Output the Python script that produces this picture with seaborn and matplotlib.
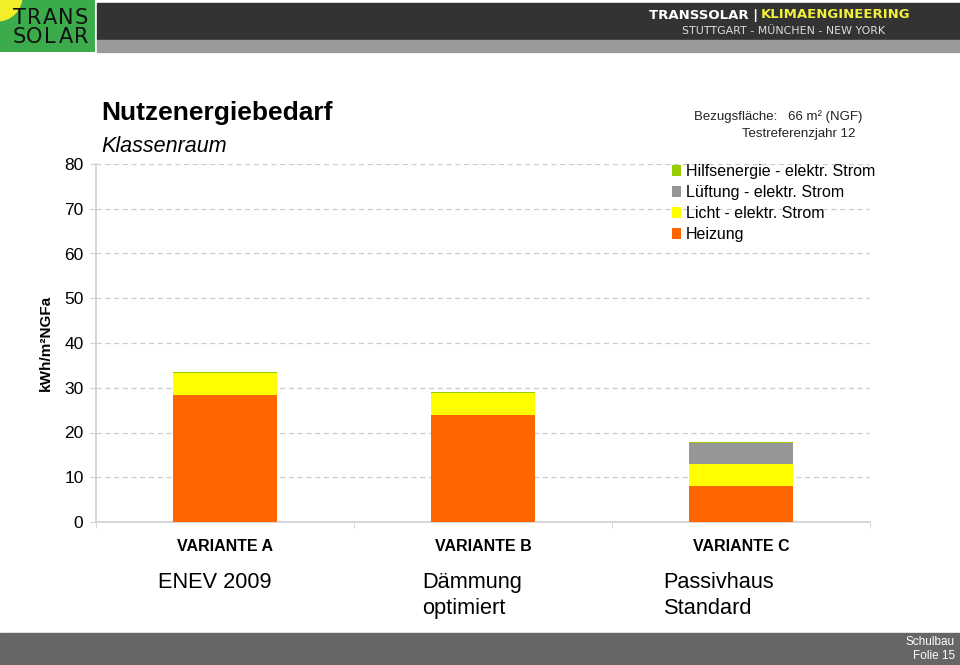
import matplotlib
matplotlib.use("Agg")
import matplotlib.pyplot as plt
from matplotlib.patches import Rectangle, Circle, Patch
import numpy as np
import seaborn as sns

# data (kWh/m²NGFa)
variants = ["VARIANTE A", "VARIANTE B", "VARIANTE C"]
subtitles = ["ENEV 2009", "Dämmung\noptimiert", "Passivhaus\nStandard"]
heizung = [28.4, 23.9, 8.0]
licht = [4.9, 4.9, 5.0]
lueftung = [0.0, 0.0, 4.7]
hilfsenergie = [0.2, 0.2, 0.2]
y_ticks = [0, 10, 20, 30, 40, 50, 60, 70, 80]

layer_names = ["Hilfsenergie - elektr. Strom", "Lüftung - elektr. Strom",
               "Licht - elektr. Strom", "Heizung"]
layer_colors = ["#99cc00", "#969696", "#ffff00", "#ff6600"]

sns.set_style("white")
plt.rcParams["font.family"] = ["Liberation Sans", "DejaVu Sans"]
plt.rcParams["text.color"] = "black"
plt.rcParams["xtick.color"] = "black"
plt.rcParams["ytick.color"] = "black"
plt.rcParams["axes.labelcolor"] = "black"

fig = plt.figure(figsize=(9.6, 6.65), dpi=100)
W, H = 960, 665


def add_box(x0, y0, x1, y1, color):
    # pixel box -> rectangle in figure fraction, behind everything
    fig.patches.append(Rectangle((x0 / W, 1 - y1 / H), (x1 - x0) / W, (y1 - y0) / H,
                                 transform=fig.transFigure, color=color, zorder=-5))


# header / footer decoration
add_box(97, 3, 960, 40, "#333333")
add_box(97, 40, 960, 52, "#9a9a9a")
add_box(0, 633, 960, 665, "#666666")

logo_ax = fig.add_axes((0, 1 - 52 / H, 95 / W, 52 / H))
logo_ax.set_xlim(0, 95)
logo_ax.set_ylim(52, 0)
logo_ax.axis("off")
logo_ax.add_patch(Rectangle((0, 0), 95, 52, color="#3bab4b"))
logo_ax.add_patch(Circle((-3, -4), 25, color="#f2ee2a"))
for row, word in zip([18, 37], ["TRANS", "SOLAR"]):
    for k, ch in enumerate(word):
        logo_ax.text(19 + 15.5 * k, row, ch, ha="center", va="center",
                     fontsize=15, family="DejaVu Sans", color="#111111")

fig.text(758 / W, 1 - 15 / H, "TRANSSOLAR |", ha="right", va="center",
         fontsize=9.5, weight="bold", color="white", family="DejaVu Sans")
fig.text(761 / W, 1 - 15 / H, "KLIMAENGINEERING", ha="left", va="center",
         fontsize=9.5, weight="bold", color="#f0f03c", family="DejaVu Sans")
fig.text(784 / W, 1 - 31 / H, "STUTTGART - MÜNCHEN - NEW YORK", ha="center",
         va="center", fontsize=7.9, color="#dddddd", family="DejaVu Sans")

fig.text(955 / W, 1 - 642 / H, "Schulbau", ha="right", va="center",
         fontsize=8.5, color="white")
fig.text(955 / W, 1 - 656 / H, "Folie 15", ha="right", va="center",
         fontsize=8.5, color="white")

# main axes
ax = fig.add_axes((96 / W, 1 - 522 / H, 774 / W, 358 / H))

cum1 = np.array(heizung)
cum2 = cum1 + np.array(licht)
cum3 = cum2 + np.array(lueftung)
cum4 = cum3 + np.array(hilfsenergie)
for vals, col in zip([cum4, cum3, cum2, cum1], layer_colors):
    sns.barplot(x=variants, y=vals, color=col, saturation=1, width=0.403,
                linewidth=0, ax=ax, zorder=3)

ax.set_xlim(-0.5, 2.5)
ax.set_ylim(0, 80)
ax.set_yticks(y_ticks)
ax.set_yticklabels([str(v) for v in y_ticks], fontsize=12.5)
for v in y_ticks[1:]:
    ax.axhline(v, color="#cccccc", lw=0.9, ls=(0, (4, 3)), zorder=1)
for s in ["top", "right"]:
    ax.spines[s].set_visible(False)
for s in ["left", "bottom"]:
    ax.spines[s].set_color("#d0d0d0")
    ax.spines[s].set_linewidth(1.2)
ax.tick_params(axis="y", length=4, color="#d0d0d0", pad=5, direction="out", left=True)
ax.set_xticks([0, 1, 2])
ax.set_xticklabels(variants, fontsize=11.5, weight="bold")
ax.tick_params(axis="x", length=0, pad=12)
ax.set_xticks([-0.5, 0.5, 1.5, 2.5], minor=True)
ax.tick_params(axis="x", which="minor", length=4, color="#d0d0d0", direction="out", bottom=True)
ax.set_xlabel("")
ax.set_ylabel("kWh/m²NGFa", fontsize=11, weight="bold", labelpad=8)

sub_offsets = [-0.26, -0.235, -0.30]
for i, (sub, off) in enumerate(zip(subtitles, sub_offsets)):
    ax.text(i + off, -0.14, sub, transform=ax.get_xaxis_transform(),
            ha="left", va="top", fontsize=15.7, linespacing=1.3)

fig.text(101 / W, 1 - 113 / H, "Nutzenergiebedarf", ha="left", va="center",
         fontsize=19, weight="bold")
fig.text(101 / W, 1 - 147 / H, "Klassenraum", ha="left", va="center",
         fontsize=15.5, style="italic")
fig.text(862 / W, 1 - 117 / H, "Bezugsfläche:   66 m² (NGF)", ha="right",
         va="center", fontsize=9.5, color="#222222")
fig.text(855 / W, 1 - 134 / H, "Testreferenzjahr 12", ha="right",
         va="center", fontsize=9.5, color="#222222")

handles = [Patch(facecolor=c, edgecolor="none") for c in layer_colors]
fig.legend(handles, layer_names, loc="upper left",
           bbox_to_anchor=(664 / W, 1 - 156.5 / H), frameon=False, fontsize=11.5,
           handlelength=0.55, handleheight=0.7, handletextpad=0.3,
           labelspacing=0.36, borderpad=0)

fig.savefig("out.png", dpi=100)
